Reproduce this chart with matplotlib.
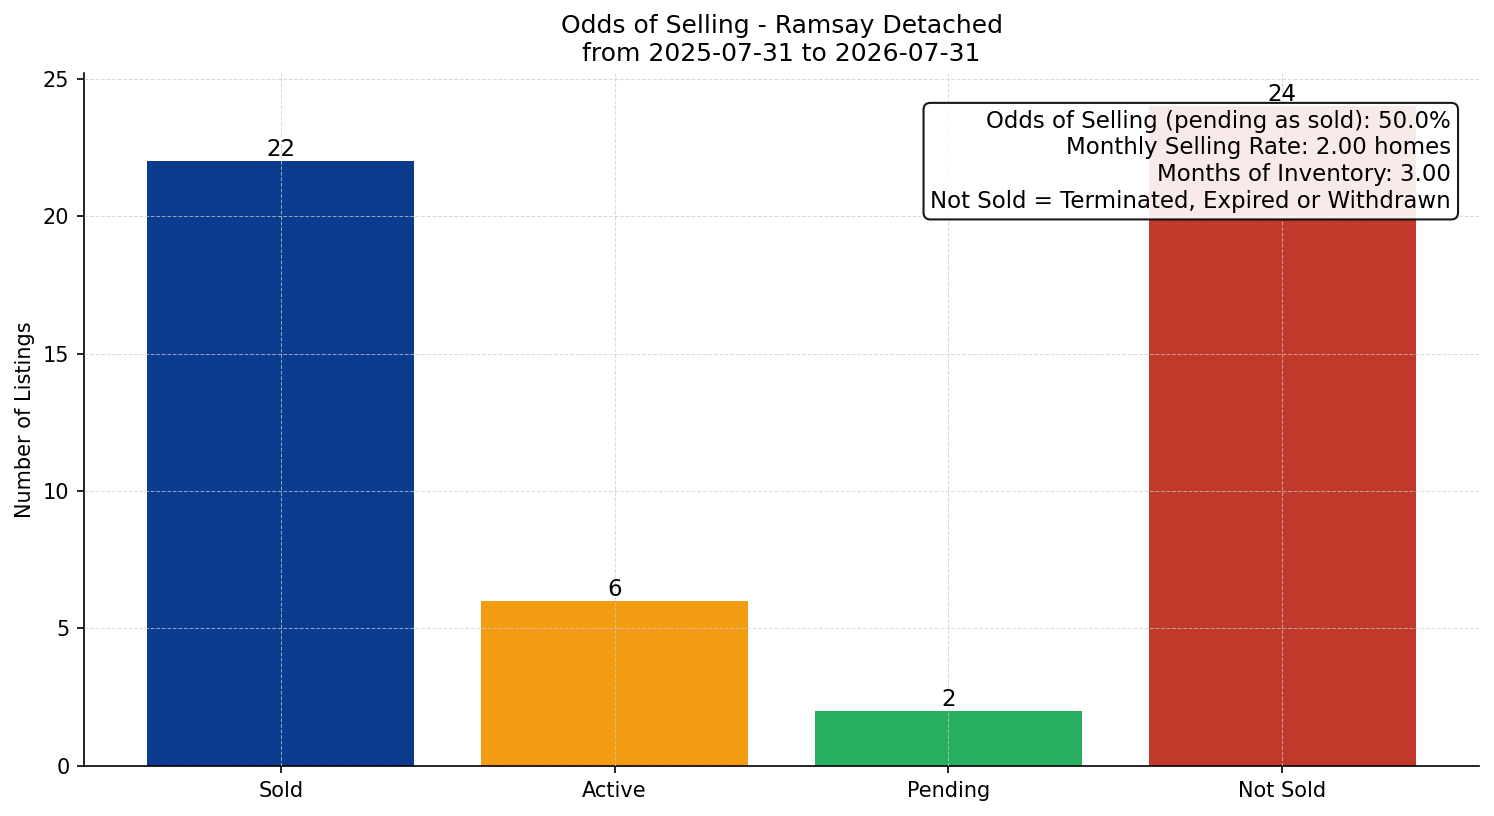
import matplotlib
matplotlib.use("Agg")
import matplotlib.pyplot as plt

categories = ["Sold", "Active", "Pending", "Not Sold"]
counts = [22, 6, 2, 24]
colors = ["#0b3b8f", "#f39c12", "#27ae60", "#c0392b"]
title = "Odds of Selling - Ramsay Detached\nfrom 2025-07-31 to 2026-07-31"
info_lines = [
    "Odds of Selling (pending as sold): 50.0%",
    "Monthly Selling Rate: 2.00 homes",
    "Months of Inventory: 3.00",
    "Not Sold = Terminated, Expired or Withdrawn",
]

fig, ax = plt.subplots(figsize=(9.96, 5.44), dpi=150)
bars = ax.bar(categories, counts, color=colors, width=0.8)
for b, v in zip(bars, counts):
    ax.text(b.get_x() + b.get_width() / 2, v, str(v), ha="center", va="bottom",
            fontsize=11, zorder=6)
ax.set_ylim(0, max(counts) * 1.05)
ax.set_ylabel("Number of Listings", fontsize=10)
ax.set_title(title, fontsize=12)
ax.grid(True, linestyle="--", linewidth=0.5, color="#cccccc", alpha=0.7, zorder=3)
ax.set_axisbelow(False)
ax.spines["top"].set_visible(False)
ax.spines["right"].set_visible(False)
ax.tick_params(labelsize=10)
ax.text(0.98, 0.947, "\n".join(info_lines), transform=ax.transAxes, ha="right", va="top",
        fontsize=11, zorder=5,
        bbox=dict(boxstyle="round,pad=0.3", facecolor="white", edgecolor="black", alpha=0.9))
fig.subplots_adjust(left=0.0562, right=0.99, top=0.9105, bottom=0.0613)
fig.savefig("out.png", dpi=150)
